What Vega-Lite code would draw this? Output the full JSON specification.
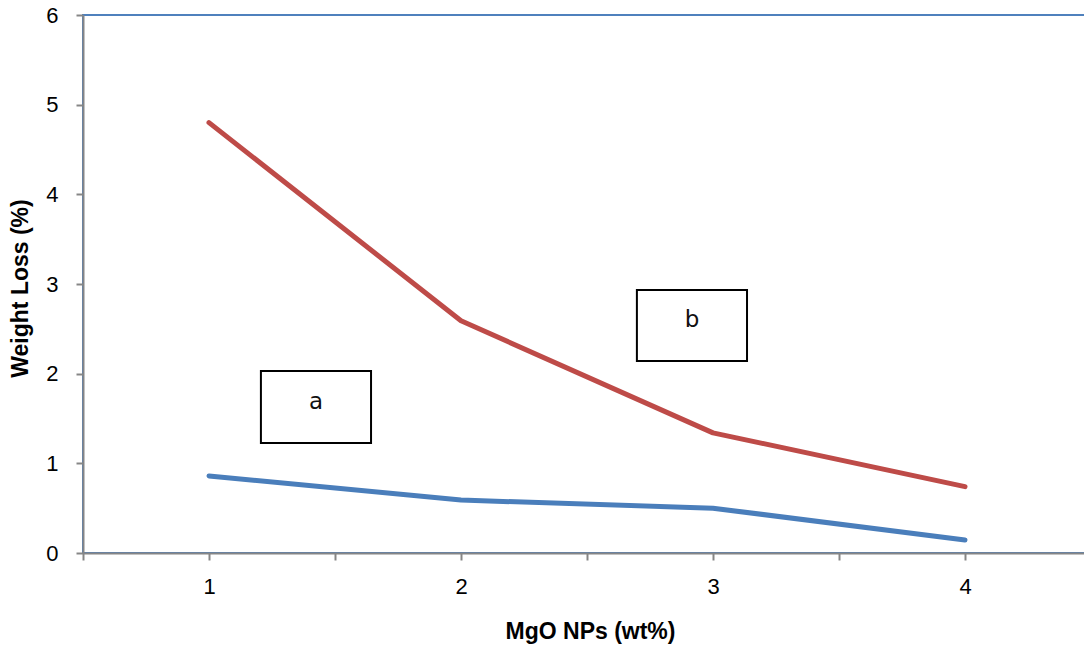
{
  "$schema": "https://vega.github.io/schema/vega-lite/v6.json",
  "width": 1008,
  "height": 538,
  "autosize": {"type": "none"},
  "padding": {"left": 83, "top": 15, "right": 0, "bottom": 94},
  "background": "white",
  "config": {
    "view": {"stroke": "#4F81BD", "strokeWidth": 2}
  },
  "datasets": {
    "series": [
      {"wt": 1, "loss": 0.86, "series": "a"},
      {"wt": 2, "loss": 0.59, "series": "a"},
      {"wt": 3, "loss": 0.5, "series": "a"},
      {"wt": 4, "loss": 0.145, "series": "a"},
      {"wt": 1, "loss": 4.8, "series": "b"},
      {"wt": 2, "loss": 2.59, "series": "b"},
      {"wt": 3, "loss": 1.34, "series": "b"},
      {"wt": 4, "loss": 0.74, "series": "b"}
    ],
    "boxes": [
      {"label": "a", "x1": 1.206, "x2": 1.643, "y1": 1.227, "y2": 2.03, "tx": 1.425, "ty": 1.68},
      {"label": "b", "x1": 2.698, "x2": 3.135, "y1": 2.141, "y2": 2.933, "tx": 2.917, "ty": 2.6}
    ]
  },
  "layer": [
    {
      "data": {"name": "series"},
      "mark": {"type": "line", "strokeWidth": 5, "strokeCap": "round", "strokeJoin": "round"},
      "encoding": {
        "x": {
          "field": "wt",
          "type": "quantitative",
          "scale": {"domain": [0.5, 4.5], "nice": false, "zero": false},
          "axis": {
            "title": "MgO NPs (wt%)",
            "values": [0.5, 1, 1.5, 2, 2.5, 3, 3.5, 4, 4.5],
            "labelExpr": "datum.value % 1 === 0 ? format(datum.value, 'd') : ''",
            "labelPadding": 16,
            "labelFont": "Liberation Sans",
            "labelFontSize": 22,
            "labelColor": "#000000",
            "titleFont": "Liberation Sans",
            "titleFontSize": 23,
            "titleFontWeight": "bold",
            "titleColor": "#000000",
            "domainColor": "#868686",
            "domainWidth": 2,
            "tickColor": "#868686",
            "tickWidth": 2,
            "tickSize": 7,
            "grid": false,
            "zindex": 1,
            "titleX": 507,
            "titleY": 78,
            "titleBaseline": "middle"
          }
        },
        "y": {
          "field": "loss",
          "type": "quantitative",
          "scale": {"domain": [0, 6], "nice": false},
          "axis": {
            "title": "Weight Loss (%)",
            "values": [0, 1, 2, 3, 4, 5, 6],
            "format": "d",
            "labelPadding": 18,
            "labelFont": "Liberation Sans",
            "labelFontSize": 22,
            "labelColor": "#000000",
            "titleFont": "Liberation Sans",
            "titleFontSize": 23,
            "titleFontWeight": "bold",
            "titleColor": "#000000",
            "domainColor": "#868686",
            "domainWidth": 2,
            "tickColor": "#868686",
            "tickWidth": 2,
            "tickSize": 7,
            "grid": false,
            "zindex": 1,
            "titleX": -63,
            "titleY": 273,
            "titleBaseline": "middle"
          }
        },
        "color": {
          "field": "series",
          "type": "nominal",
          "scale": {"domain": ["a", "b"], "range": ["#4A7EBB", "#BE4B48"]},
          "legend": null
        },
        "detail": {"field": "series"}
      }
    },
    {
      "data": {"name": "boxes"},
      "mark": {"type": "rect", "fill": "white", "stroke": "#000000", "strokeWidth": 2},
      "encoding": {
        "x": {"field": "x1", "type": "quantitative"},
        "x2": {"field": "x2"},
        "y": {"field": "y1", "type": "quantitative"},
        "y2": {"field": "y2"}
      }
    },
    {
      "data": {"name": "boxes"},
      "mark": {"type": "text", "fontSize": 23, "font": "DejaVu Sans", "color": "#111111", "baseline": "middle", "align": "center"},
      "encoding": {
        "x": {"field": "tx", "type": "quantitative"},
        "y": {"field": "ty", "type": "quantitative"},
        "text": {"field": "label"}
      }
    }
  ]
}
